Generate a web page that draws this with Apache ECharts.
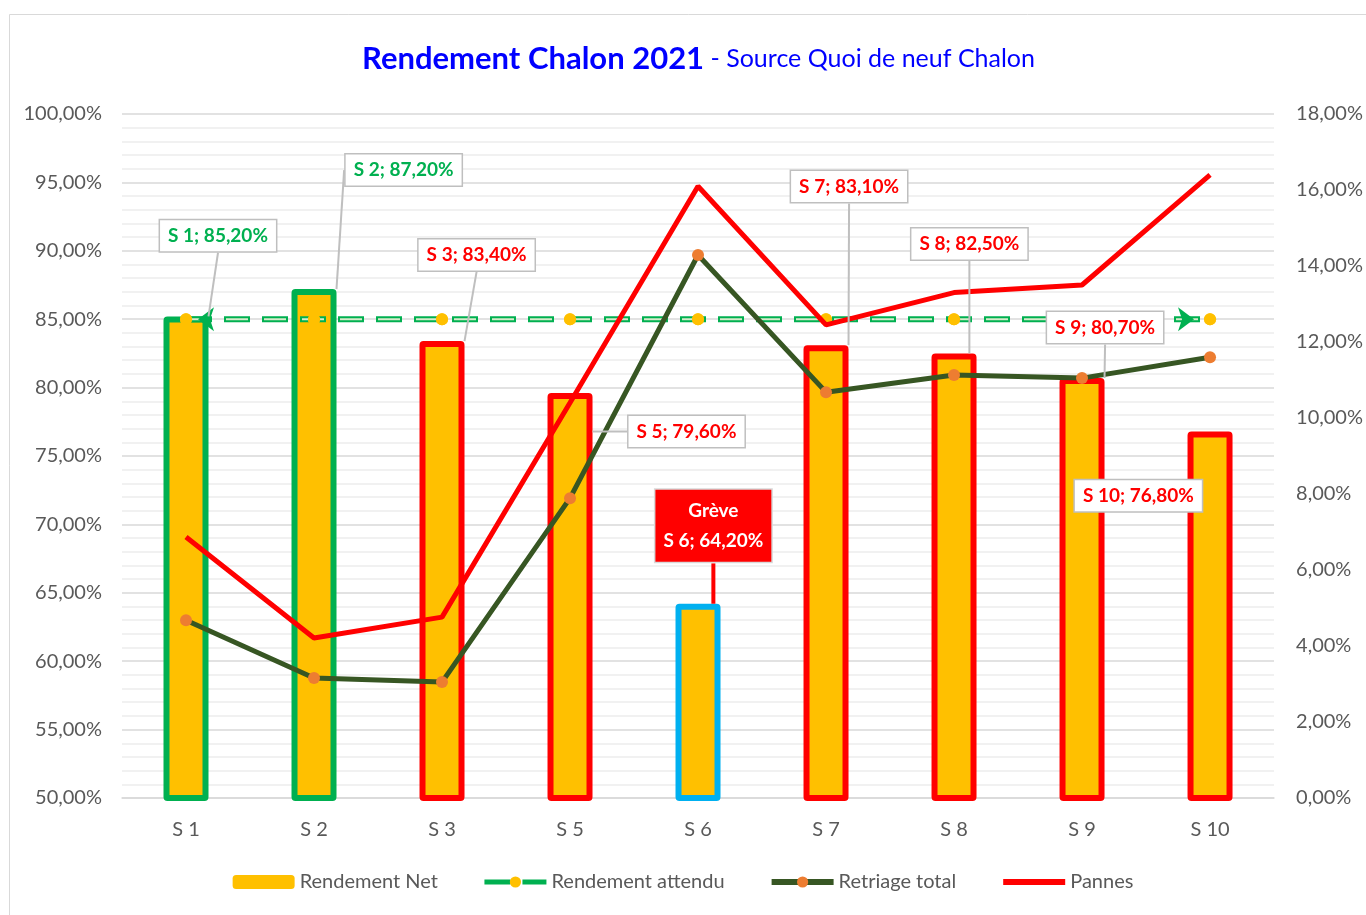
<!DOCTYPE html>
<html>
<head>
<meta charset="utf-8">
<script src="https://cdn.jsdelivr.net/npm/echarts@6/dist/echarts.min.js"></script>
<style>
  html, body { margin: 0; padding: 0; background: #fff; }
  #main { width: 1366px; height: 915px; }
</style>
</head>
<body>
<div id="main"></div>
<script>
// données
const semaines = ["S 1", "S 2", "S 3", "S 5", "S 6", "S 7", "S 8", "S 9", "S 10"];
const rendementNet = [85.2, 87.2, 83.4, 79.6, 64.2, 83.1, 82.5, 80.7, 76.8];
const rendementAttendu = [85, 85, 85, 85, 85, 85, 85, 85, 85];
const retriageTotal = [4.68, 3.16, 3.05, 7.89, 14.29, 10.68, 11.13, 11.05, 11.6];
const pannes = [6.87, 4.21, 4.76, 10.4, 16.1, 12.45, 13.3, 13.5, 16.4];
const statut = ["ok", "ok", "ko", "ko", "greve", "ko", "ko", "ko", "ko"];

// mise en forme
const bordure = { ok: "#00B050", ko: "#FF0000", greve: "#00B0F0" };
const texteLabel = { ok: "#00B050", ko: "#FF0000", greve: "#FFFFFF" };
// position des bulles : [décalage en catégories, valeur sur l'axe gauche]
const bulles = [
  [0.25, 91.1], [0.70, 95.9], [0.27, 89.7], [0.91, 76.8], [0.12, 69.9],
  [0.18, 94.7], [0.12, 90.5], [0.18, 84.4], [-0.56, 72.1]
];

const fmt = v => v.toFixed(2).replace(".", ",") + "%";
const police = "Lato, 'Open Sans', sans-serif";
const vert = "#00B050";

const chart = echarts.init(document.getElementById("main"));

// barres visibles
const barData = rendementNet.map((v, i) => ({
  value: v,
  itemStyle: { borderColor: bordure[statut[i]] }
}));

// barres invisibles qui portent les bulles (au-dessus des courbes)
const bulleData = rendementNet.map((v, i) => {
  const s = statut[i];
  const item = {
    value: v,
    label: {
      color: texteLabel[s],
      formatter: (s === "greve" ? "Grève\n" : "") + semaines[i] + "; " + fmt(v)
    }
  };
  if (s === "greve") {
    item.label.backgroundColor = "#FF0000";
    item.label.borderColor = "#D9D9D9";
    item.label.lineHeight = 30;
    item.labelLine = { lineStyle: { color: "#FF0000", width: 4 } };
  }
  return item;
});

let option = {
  animation: false,
  backgroundColor: "#fff",
  textStyle: { fontFamily: police },
  title: {
    left: 357,
    top: 38,
    text: "{a|Rendement Chalon 2021}{b| - Source Quoi de neuf Chalon}",
    textStyle: {
      rich: {
        a: { fontFamily: police, fontSize: 31, fontWeight: "bold", color: "#0000FF" },
        b: { fontFamily: police, fontSize: 25, fontWeight: "normal", color: "#0000FF" }
      }
    }
  },
  graphic: [
    {
      type: "rect",
      shape: { x: 9.5, y: 14.5, width: 1400, height: 950 },
      style: { fill: null, stroke: "#D9D9D9", lineWidth: 1 },
      silent: true
    }
  ],
  legend: {
    bottom: 18,
    left: "center",
    itemWidth: 62,
    itemHeight: 14,
    itemGap: 44,
    textStyle: { color: "#595959", fontSize: 20, fontFamily: police },
    data: [
      "Rendement Net",
      { name: "Rendement attendu", lineStyle: { width: 5 } },
      { name: "Retriage total", lineStyle: { width: 6 } },
      { name: "Pannes", lineStyle: { width: 6 }, itemStyle: { opacity: 0 } }
    ]
  },
  grid: { left: 122, right: 91, top: 114, bottom: 117 },
  xAxis: {
    type: "category",
    data: semaines,
    axisLine: { lineStyle: { color: "#D9D9D9", width: 1.5 } },
    axisTick: { show: false },
    axisLabel: { color: "#595959", fontSize: 20, margin: 22, fontFamily: police }
  },
  yAxis: [
    {
      type: "value",
      min: 50,
      max: 100,
      interval: 5,
      axisLine: { show: false },
      axisTick: { show: false },
      axisLabel: { color: "#595959", fontSize: 20, margin: 20, formatter: fmt, fontFamily: police },
      splitLine: { lineStyle: { color: "#D9D9D9", width: 1.5 } },
      minorTick: { show: false, splitNumber: 5 },
      minorSplitLine: { show: true, lineStyle: { color: "#EDEDED", width: 1.5 } }
    },
    {
      type: "value",
      min: 0,
      max: 18,
      interval: 2,
      axisLine: { show: false },
      axisTick: { show: false },
      axisLabel: { color: "#595959", fontSize: 20, margin: 22, formatter: fmt, fontFamily: police },
      splitLine: { show: false }
    }
  ],
  series: [
    {
      name: "Rendement Net",
      type: "bar",
      barWidth: 45,
      z: 2,
      data: barData,
      itemStyle: { color: "#FFC000", borderWidth: 6, borderRadius: 1 }
    },
    {
      name: "Rendement attendu",
      type: "line",
      yAxisIndex: 0,
      z: 3,
      data: rendementAttendu,
      symbol: "circle",
      symbolSize: 12,
      itemStyle: { color: "#FFC000" },
      lineStyle: { color: vert, width: 6, type: [26, 12] },
      markPoint: {
        silent: true,
        label: { show: false },
        itemStyle: { color: vert },
        data: [
          { coord: [0, rendementAttendu[0]], symbol: "arrow", symbolSize: [18, 16], symbolRotate: 90, symbolOffset: [12, 0] },
          { coord: [8, rendementAttendu[8]], symbol: "arrow", symbolSize: [18, 16], symbolRotate: -90, symbolOffset: [-16, 0] }
        ]
      }
    },
    {
      name: "attendu-int",
      type: "line",
      yAxisIndex: 0,
      z: 3,
      data: rendementAttendu,
      symbol: "none",
      silent: true,
      lineStyle: { color: "#D8EBCB", width: 2, type: [22, 16], dashOffset: -2 }
    },
    {
      name: "attendu-pts",
      type: "line",
      yAxisIndex: 0,
      z: 3,
      data: rendementAttendu,
      symbol: "circle",
      symbolSize: 12,
      silent: true,
      itemStyle: { color: "#FFC000" },
      lineStyle: { opacity: 0 }
    },
    {
      name: "Retriage total",
      type: "line",
      yAxisIndex: 1,
      z: 4,
      data: retriageTotal,
      symbol: "circle",
      symbolSize: 12,
      itemStyle: { color: "#ED7D31" },
      lineStyle: { color: "#375623", width: 5 }
    },
    {
      name: "Pannes",
      type: "line",
      yAxisIndex: 1,
      z: 4,
      data: pannes,
      symbol: "none",
      itemStyle: { color: "#FF0000" },
      lineStyle: { color: "#FF0000", width: 5 }
    },
    {
      name: "bulles",
      type: "bar",
      barWidth: 45,
      barGap: "-100%",
      z: 10,
      silent: true,
      data: bulleData,
      itemStyle: { color: "rgba(0,0,0,0)", borderWidth: 0 },
      label: {
        show: true,
        position: "insideTop",
        fontSize: 19,
        fontWeight: "bold",
        fontFamily: police,
        backgroundColor: "#fff",
        borderColor: "#BFBFBF",
        borderWidth: 1.5,
        padding: [6, 8],
        align: "center"
      },
      labelLine: { show: true, lineStyle: { width: 2, color: "#BFBFBF" } },
      labelLayout: function (p) {
        const i = p.dataIndex;
        const a = chart.convertToPixel({ xAxisIndex: 0, yAxisIndex: 0 }, [i, bulles[i][1]]);
        const b = chart.convertToPixel({ xAxisIndex: 0, yAxisIndex: 0 }, [i + 1 < semaines.length ? i + 1 : i - 1, bulles[i][1]]);
        const w = Math.abs(b[0] - a[0]);
        return {
          x: a[0] + bulles[i][0] * w,
          y: a[1],
          align: "center",
          verticalAlign: "middle",
          hideOverlap: false
        };
      }
    }
  ]
};

chart.setOption(option);
</script>
</body>
</html>
